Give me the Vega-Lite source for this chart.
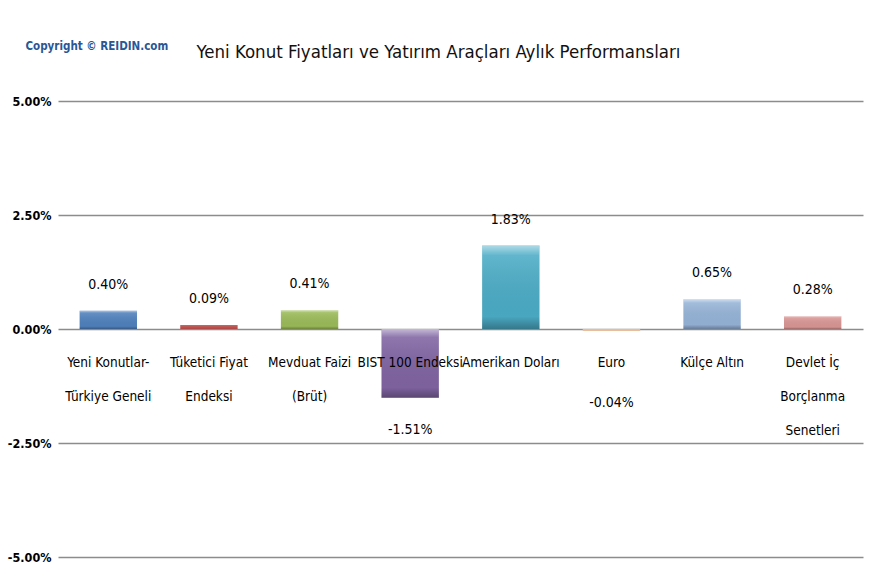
{
  "$schema": "https://vega.github.io/schema/vega-lite/v6.json",
  "autosize": "none",
  "width": 805,
  "height": 456,
  "padding": {"left": 58, "top": 101, "right": 12, "bottom": 27},
  "background": "white",
  "config": {
    "view": {"stroke": null},
    "font": "DejaVu Sans Condensed, sans-serif"
  },
  "title": {
    "text": "Yeni Konut Fiyatları ve Yatırım Araçları Aylık Performansları",
    "font": "DejaVu Sans Condensed, sans-serif",
    "fontSize": 18.5,
    "fontWeight": "normal",
    "color": "#111111",
    "anchor": "middle",
    "dx": -22,
    "offset": -21
  },
  "data": {
    "values": [
      {"name": "Yeni Konutlar-|Türkiye Geneli", "value": 0.40},
      {"name": "Tüketici Fiyat|Endeksi", "value": 0.09},
      {"name": "Mevduat Faizi|(Brüt)", "value": 0.41},
      {"name": "BIST 100 Endeksi", "value": -1.51},
      {"name": "Amerikan Doları", "value": 1.83},
      {"name": "Euro", "value": -0.04},
      {"name": "Külçe Altın", "value": 0.65},
      {"name": "Devlet İç|Borçlanma|Senetleri", "value": 0.28}
    ]
  },
  "transform": [
    {"calculate": "replace(format(datum.value, '.2f'), '\u2212', '-') + '%'", "as": "label"}
  ],
  "encoding": {
    "x": {
      "field": "name",
      "type": "nominal",
      "sort": null,
      "scale": {"paddingInner": 0.43, "paddingOuter": 0.215},
      "axis": {
        "title": null,
        "offset": -228,
        "domain": false,
        "ticks": false,
        "labelAngle": 0,
        "labelExpr": "split(datum.value, '|')",
        "labelFont": "DejaVu Sans Condensed, sans-serif",
        "labelFontSize": 13.5,
        "labelColor": "#000000",
        "labelLineHeight": 34,
        "labelPadding": 33,
        "labelBaseline": "middle",
        "zindex": 1
      }
    },
    "y": {
      "field": "value",
      "type": "quantitative",
      "scale": {"domain": [-5, 5], "nice": false},
      "axis": {
        "values": [-5, -2.5, 0, 2.5, 5],
        "labelExpr": "replace(format(datum.value, '.2f'), '\u2212', '-') + '%'",
        "labelFont": "DejaVu Sans Condensed, sans-serif",
        "labelFontSize": 12.5,
        "labelFontWeight": "bold",
        "labelColor": "#000000",
        "labelPadding": 7,
        "domain": false,
        "ticks": false,
        "grid": true,
        "gridColor": "#8c8c8c",
        "gridWidth": 1.6,
        "title": "Copyright © REIDIN.com",
        "titleFont": "DejaVu Sans Condensed, sans-serif",
        "titleAngle": 0,
        "titleAlign": "left",
        "titleBaseline": "middle",
        "titleX": -33,
        "titleY": -55,
        "titleFontSize": 11.5,
        "titleFontWeight": "bold",
        "titleColor": "#2a5696",
        "zindex": 0
      }
    }
  },
  "layer": [
    {
      "mark": {"type": "bar"},
      "encoding": {
        "color": {
          "field": "name",
          "type": "nominal",
          "scale": {
            "domain": ["Yeni Konutlar-|Türkiye Geneli", "Tüketici Fiyat|Endeksi", "Mevduat Faizi|(Brüt)", "BIST 100 Endeksi", "Amerikan Doları", "Euro", "Külçe Altın", "Devlet İç|Borçlanma|Senetleri"],
            "range": ["#4f81bd", "#c0504d", "#9bbb59", "#8064a2", "#4bacc6", "#f2b88a", "#95b3d7", "#d99694"]
          },
          "legend": null
        }
      }
    },
    {
      "mark": {
        "type": "bar",
        "color": {
          "gradient": "linear",
          "x1": 0, "y1": 0, "x2": 0, "y2": 1,
          "stops": [
            {"offset": 0, "color": "rgba(255,255,255,0.55)"},
            {"offset": 0.12, "color": "rgba(255,255,255,0.12)"},
            {"offset": 0.85, "color": "rgba(0,0,0,0.03)"},
            {"offset": 1, "color": "rgba(0,0,0,0.3)"}
          ]
        }
      }
    },
    {
      "transform": [{"filter": "datum.value >= 0"}],
      "mark": {"type": "text", "baseline": "middle", "dy": -26, "fontSize": 14, "color": "#000000"},
      "encoding": {"text": {"field": "label", "type": "nominal"}}
    },
    {
      "transform": [{"filter": "datum.value < -0.5"}],
      "mark": {"type": "text", "baseline": "middle", "dy": 32, "fontSize": 14, "color": "#000000"},
      "encoding": {"text": {"field": "label", "type": "nominal"}}
    },
    {
      "transform": [{"filter": "datum.value < 0 && datum.value >= -0.5"}],
      "mark": {"type": "text", "baseline": "middle", "dy": 72, "fontSize": 14, "color": "#000000"},
      "encoding": {"text": {"field": "label", "type": "nominal"}}
    }
  ]
}
